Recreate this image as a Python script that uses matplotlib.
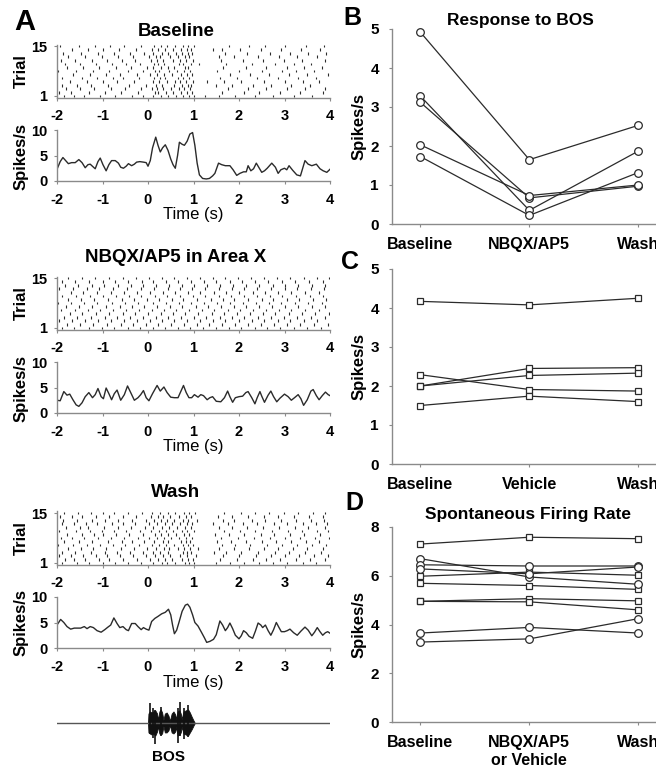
import numpy as np
import matplotlib
matplotlib.use('Agg')
import matplotlib.pyplot as plt

plt.rcParams['font.family'] = ['Liberation Sans', 'DejaVu Sans']
plt.rcParams['font.weight'] = 'bold'
plt.rcParams['axes.unicode_minus'] = False

W, H = 656, 773
INK = '#2b2b2b'
SPINE = '#8a8a8a'

# ---- raster data: spike times (s) per trial, trials 1..15 ----
raster_baseline = [
    [-1.85, -1.62, -1.4, -1.05, -0.72, -0.35, -0.1, 0.12, 0.28, 0.45, 0.62, 0.78, 0.9, 1.02, 1.25, 1.55, 1.92, 2.35, 2.75, 3.2, 3.6],
    [-1.95, -1.7, -1.3, -0.95, -0.6, -0.22, 0.15, 0.22, 0.4, 0.55, 0.72, 0.85, 0.97, 1.62, 2.1, 2.45, 2.9, 3.35, 3.85],
    [-1.8, -1.5, -1.18, -0.82, -0.5, -0.15, 0.08, 0.2, 0.33, 0.5, 0.68, 0.8, 0.92, 1.75, 2.2, 2.6, 3.05, 3.45, 3.9],
    [-1.9, -1.55, -1.25, -0.88, -0.42, -0.05, 0.18, 0.3, 0.58, 0.75, 0.88, 0.95, 1.5, 1.85, 2.3, 2.7, 3.15, 3.55],
    [-1.72, -1.35, -1.0, -0.68, -0.3, 0.1, 0.25, 0.42, 0.6, 0.7, 0.83, 0.98, 1.3, 1.68, 2.05, 2.55, 3.0, 3.4, 3.75],
    [-1.88, -1.45, -1.12, -0.78, -0.55, -0.2, 0.14, 0.27, 0.38, 0.65, 0.77, 0.9, 1.58, 1.95, 2.4, 2.85, 3.3, 3.7],
    [-1.65, -1.28, -0.92, -0.62, -0.25, 0.05, 0.2, 0.35, 0.52, 0.73, 0.86, 0.96, 1.8, 2.25, 2.65, 3.1, 3.5, 3.95],
    [-1.97, -1.58, -1.2, -0.85, -0.45, -0.12, 0.16, 0.24, 0.47, 0.63, 0.79, 0.93, 1.52, 2.0, 2.5, 2.95, 3.25, 3.65],
    [-1.78, -1.42, -1.08, -0.7, -0.38, -0.02, 0.11, 0.29, 0.44, 0.57, 0.81, 0.89, 1.65, 2.15, 2.6, 3.05, 3.42, 3.82],
    [-1.83, -1.5, -1.15, -0.8, -0.48, -0.18, 0.13, 0.23, 0.36, 0.69, 0.76, 0.94, 1.13, 1.72, 2.28, 2.8, 3.2, 3.58],
    [-1.92, -1.6, -1.22, -0.9, -0.58, -0.28, 0.07, 0.19, 0.32, 0.54, 0.71, 0.84, 0.99, 1.6, 2.08, 2.52, 2.98, 3.38, 3.88],
    [-1.75, -1.38, -1.02, -0.65, -0.32, 0.02, 0.17, 0.26, 0.49, 0.66, 0.82, 0.91, 1.55, 1.9, 2.42, 2.88, 3.28, 3.72],
    [-1.86, -1.48, -1.1, -0.75, -0.4, -0.08, 0.12, 0.31, 0.43, 0.61, 0.74, 0.87, 0.97, 1.7, 2.18, 2.68, 3.12, 3.52, 3.92],
    [-1.68, -1.32, -0.98, -0.63, -0.27, 0.09, 0.21, 0.37, 0.56, 0.72, 0.85, 0.95, 1.43, 1.62, 2.02, 2.48, 2.92, 3.36, 3.78],
    [-1.94, -1.52, -1.16, -0.84, -0.52, -0.16, 0.14, 0.28, 0.41, 0.59, 0.78, 0.88, 1.0, 1.78, 2.22, 2.58, 3.02, 3.48, 3.86],
]

raster_nbqx = [
    [-1.9, -1.62, -1.3, -1.02, -0.75, -0.45, -0.18, 0.1, 0.38, 0.65, 0.92, 1.2, 1.5, 1.78, 2.05, 2.35, 2.62, 2.9, 3.2, 3.5, 3.8],
    [-1.78, -1.5, -1.2, -0.9, -0.6, -0.32, -0.05, 0.22, 0.5, 0.8, 1.08, 1.35, 1.62, 1.92, 2.2, 2.48, 2.78, 3.05, 3.35, 3.65, 3.95],
    [-1.95, -1.68, -1.38, -1.1, -0.82, -0.52, -0.25, 0.05, 0.3, 0.58, 0.85, 1.15, 1.42, 1.7, 2.0, 2.28, 2.55, 2.85, 3.12, 3.42, 3.72],
    [-1.85, -1.55, -1.25, -0.95, -0.68, -0.4, -0.1, 0.18, 0.45, 0.72, 1.0, 1.28, 1.58, 1.85, 2.12, 2.42, 2.7, 2.98, 3.28, 3.58, 3.88],
    [-1.72, -1.45, -1.15, -0.85, -0.55, -0.28, 0.0, 0.28, 0.55, 0.82, 1.1, 1.4, 1.68, 1.95, 2.25, 2.52, 2.8, 3.1, 3.38, 3.68, 3.98],
    [-1.92, -1.6, -1.32, -1.05, -0.78, -0.48, -0.2, 0.08, 0.35, 0.62, 0.9, 1.18, 1.45, 1.75, 2.02, 2.3, 2.6, 2.88, 3.15, 3.45, 3.75],
    [-1.8, -1.52, -1.22, -0.92, -0.62, -0.35, -0.08, 0.2, 0.48, 0.75, 1.05, 1.32, 1.6, 1.88, 2.15, 2.45, 2.72, 3.0, 3.3, 3.6, 3.9],
    [-1.98, -1.7, -1.4, -1.12, -0.8, -0.5, -0.22, 0.12, 0.4, 0.68, 0.95, 1.22, 1.52, 1.8, 2.08, 2.38, 2.65, 2.92, 3.22, 3.52, 3.82],
    [-1.75, -1.48, -1.18, -0.88, -0.58, -0.3, -0.02, 0.25, 0.52, 0.78, 1.08, 1.38, 1.65, 1.9, 2.2, 2.5, 2.75, 3.05, 3.32, 3.62, 3.92],
    [-1.88, -1.58, -1.28, -1.0, -0.7, -0.42, -0.15, 0.15, 0.42, 0.7, 0.98, 1.25, 1.55, 1.82, 2.1, 2.4, 2.68, 2.95, 3.25, 3.55, 3.85],
    [-1.7, -1.42, -1.12, -0.82, -0.52, -0.25, 0.04, 0.32, 0.6, 0.88, 1.15, 1.45, 1.72, 2.0, 2.3, 2.58, 2.85, 3.15, 3.45, 3.75],
    [-1.96, -1.65, -1.35, -1.08, -0.76, -0.46, -0.16, 0.14, 0.44, 0.7, 0.96, 1.26, 1.56, 1.84, 2.12, 2.4, 2.7, 3.0, 3.28, 3.58, 3.86],
    [-1.82, -1.54, -1.24, -0.96, -0.66, -0.38, -0.12, 0.18, 0.46, 0.74, 1.02, 1.3, 1.58, 1.86, 2.16, 2.44, 2.74, 3.02, 3.3, 3.6, 3.9],
    [-1.9, -1.6, -1.3, -1.0, -0.72, -0.44, -0.14, 0.12, 0.4, 0.66, 0.94, 1.22, 1.5, 1.8, 2.06, 2.36, 2.64, 2.94, 3.24, 3.54, 3.84],
    [-1.76, -1.46, -1.16, -0.86, -0.56, -0.26, 0.02, 0.3, 0.58, 0.86, 1.14, 1.42, 1.7, 1.98, 2.26, 2.56, 2.84, 3.12, 3.42, 3.72, 3.98],
]

raster_wash = [
    [-1.9, -1.55, -1.3, -1.0, -0.72, -0.45, -0.15, 0.1, 0.3, 0.42, 0.6, 0.82, 0.9, 1.02, 1.5, 1.8, 2.1, 2.45, 2.75, 3.05, 3.4, 3.7],
    [-1.82, -1.62, -1.38, -1.08, -0.85, -0.55, -0.25, 0.05, 0.22, 0.38, 0.52, 0.75, 0.88, 0.98, 1.58, 1.95, 2.3, 2.6, 2.9, 3.25, 3.55, 3.9],
    [-1.95, -1.7, -1.42, -1.15, -0.9, -0.62, -0.32, -0.05, 0.15, 0.33, 0.48, 0.7, 0.85, 1.05, 1.65, 2.0, 2.38, 2.7, 3.0, 3.32, 3.65, 3.95],
    [-1.88, -1.6, -1.25, -0.95, -0.68, -0.4, -0.12, 0.12, 0.27, 0.44, 0.78, 0.86, 0.95, 1.45, 1.72, 2.05, 2.42, 2.8, 3.1, 3.45, 3.8],
    [-1.75, -1.48, -1.2, -0.92, -0.6, -0.3, -0.02, 0.18, 0.35, 0.47, 0.66, 0.8, 0.92, 1.1, 1.55, 1.88, 2.22, 2.55, 2.85, 3.18, 3.5, 3.85],
    [-1.98, -1.65, -1.35, -1.05, -0.78, -0.5, -0.2, 0.08, 0.25, 0.4, 0.58, 0.76, 0.87, 0.99, 1.62, 1.92, 2.25, 2.62, 2.95, 3.28, 3.6, 3.92],
    [-1.85, -1.52, -1.22, -0.88, -0.58, -0.35, -0.08, 0.14, 0.32, 0.45, 0.72, 0.84, 0.93, 1.52, 1.82, 2.15, 2.5, 2.82, 3.15, 3.48, 3.75],
    [-1.92, -1.68, -1.4, -1.1, -0.82, -0.52, -0.22, 0.03, 0.2, 0.36, 0.5, 0.68, 0.83, 0.96, 1.6, 1.98, 2.32, 2.68, 3.02, 3.35, 3.68, 3.98],
    [-1.78, -1.45, -1.18, -0.98, -0.7, -0.42, -0.1, 0.16, 0.29, 0.43, 0.62, 0.79, 0.91, 1.48, 1.78, 2.12, 2.48, 2.78, 3.12, 3.42, 3.78],
    [-1.96, -1.58, -1.28, -1.02, -0.75, -0.48, -0.18, 0.06, 0.24, 0.39, 0.55, 0.74, 0.86, 1.0, 1.68, 2.02, 2.35, 2.72, 3.08, 3.38, 3.72, 3.96],
    [-1.8, -1.5, -1.32, -0.96, -0.65, -0.38, -0.06, 0.11, 0.31, 0.46, 0.64, 0.81, 0.94, 1.56, 1.85, 2.18, 2.52, 2.88, 3.22, 3.52, 3.88],
    [-1.9, -1.63, -1.36, -1.12, -0.8, -0.56, -0.28, 0.02, 0.19, 0.37, 0.53, 0.71, 0.85, 0.97, 1.42, 1.75, 2.08, 2.4, 2.76, 3.06, 3.4, 3.7, 3.94],
    [-1.86, -1.56, -1.24, -0.94, -0.66, -0.36, -0.04, 0.13, 0.28, 0.41, 0.57, 0.77, 0.89, 1.08, 1.64, 1.9, 2.28, 2.58, 2.92, 3.26, 3.58, 3.86],
    [-1.94, -1.66, -1.44, -1.14, -0.86, -0.54, -0.26, 0.07, 0.23, 0.34, 0.49, 0.69, 0.84, 0.95, 1.54, 1.84, 2.2, 2.56, 2.86, 3.2, 3.54, 3.84],
    [-1.84, -1.54, -1.26, -1.0, -0.74, -0.44, -0.14, 0.09, 0.26, 0.44, 0.6, 0.8, 0.9, 1.04, 1.66, 2.04, 2.36, 2.66, 2.98, 3.3, 3.62, 3.9],
]

# ---- smoothed firing rate (time s, spikes/s) ----
rate_baseline = [
    (-2.0, 2.3), (-1.93, 3.8), (-1.87, 4.6), (-1.8, 3.9), (-1.75, 3.4), (-1.68, 3.6), (-1.6, 3.6), (-1.52, 4.2),
    (-1.45, 3.6), (-1.38, 2.6), (-1.32, 3.2), (-1.27, 3.3), (-1.21, 2.8), (-1.16, 2.4), (-1.1, 3.8), (-1.05, 4.5),
    (-0.99, 3.2), (-0.92, 2.0), (-0.86, 3.2), (-0.8, 4.0), (-0.72, 4.0), (-0.65, 3.5), (-0.6, 2.7), (-0.54, 2.5),
    (-0.48, 2.9), (-0.43, 3.4), (-0.36, 3.0), (-0.3, 3.3), (-0.25, 3.7), (-0.18, 3.8), (-0.1, 3.7), (-0.04, 3.6),
    (0.0, 2.9), (0.05, 4.0), (0.1, 6.5), (0.17, 8.6), (0.22, 7.0), (0.27, 5.7), (0.32, 6.5), (0.38, 7.1),
    (0.44, 6.0), (0.5, 4.3), (0.55, 3.2), (0.6, 2.5), (0.65, 5.0), (0.69, 7.6), (0.75, 7.2), (0.8, 7.0),
    (0.86, 7.8), (0.92, 9.2), (0.98, 9.5), (1.03, 7.0), (1.08, 3.5), (1.13, 1.2), (1.2, 0.5), (1.28, 0.4),
    (1.35, 0.5), (1.42, 1.0), (1.47, 1.5), (1.55, 3.5), (1.62, 3.2), (1.7, 3.0), (1.8, 3.0), (1.87, 2.2),
    (1.95, 1.1), (2.02, 1.5), (2.1, 1.8), (2.16, 1.8), (2.2, 3.0), (2.26, 2.0), (2.32, 2.4), (2.38, 3.5),
    (2.44, 2.6), (2.5, 1.7), (2.56, 2.0), (2.62, 2.5), (2.72, 3.5), (2.8, 2.7), (2.86, 1.5), (2.92, 2.2),
    (3.0, 2.5), (3.05, 2.2), (3.1, 3.0), (3.18, 2.1), (3.27, 1.2), (3.35, 1.0), (3.45, 4.0), (3.52, 3.3),
    (3.6, 3.0), (3.7, 3.3), (3.78, 2.4), (3.85, 2.0), (3.93, 1.7), (4.0, 2.3),
]

rate_nbqx = [
    (-2.0, 2.5), (-1.93, 2.4), (-1.85, 4.2), (-1.78, 3.5), (-1.72, 3.7), (-1.65, 2.6), (-1.58, 1.6), (-1.52, 1.3),
    (-1.45, 2.0), (-1.38, 3.2), (-1.3, 4.0), (-1.22, 3.0), (-1.16, 3.6), (-1.1, 4.8), (-1.03, 3.2), (-0.98, 2.8),
    (-0.92, 4.9), (-0.86, 3.8), (-0.8, 2.6), (-0.74, 3.8), (-0.68, 4.5), (-0.6, 2.5), (-0.52, 3.6), (-0.45, 5.3),
    (-0.38, 4.0), (-0.3, 2.5), (-0.22, 3.0), (-0.16, 3.6), (-0.1, 4.4), (-0.04, 3.0), (0.02, 2.4), (0.1, 3.8),
    (0.2, 5.4), (0.27, 4.3), (0.35, 5.1), (0.42, 4.0), (0.5, 3.1), (0.58, 3.0), (0.66, 3.0), (0.72, 4.2),
    (0.78, 5.4), (0.84, 4.0), (0.9, 3.0), (0.96, 3.0), (1.02, 3.6), (1.1, 3.1), (1.16, 3.6), (1.22, 3.4),
    (1.3, 2.6), (1.36, 3.0), (1.42, 3.2), (1.5, 2.3), (1.6, 2.2), (1.68, 3.0), (1.75, 4.3), (1.8, 3.2),
    (1.86, 2.1), (1.92, 3.0), (2.0, 3.2), (2.08, 3.3), (2.15, 4.0), (2.2, 4.2), (2.28, 3.0), (2.35, 1.8),
    (2.4, 3.0), (2.46, 4.2), (2.5, 3.3), (2.56, 2.1), (2.64, 3.5), (2.7, 4.3), (2.76, 3.2), (2.83, 2.2),
    (2.9, 2.9), (3.0, 3.7), (3.08, 3.2), (3.15, 2.5), (3.22, 3.0), (3.3, 3.6), (3.36, 2.8), (3.42, 1.5),
    (3.5, 2.6), (3.58, 4.3), (3.63, 4.6), (3.7, 3.4), (3.76, 2.6), (3.83, 3.4), (3.9, 4.1), (3.96, 3.6), (4.0, 3.4),
]

rate_wash = [
    (-2.0, 4.5), (-1.92, 5.6), (-1.85, 5.0), (-1.78, 4.2), (-1.7, 3.7), (-1.62, 3.9), (-1.55, 3.9), (-1.48, 3.9),
    (-1.4, 4.2), (-1.34, 3.8), (-1.27, 4.2), (-1.2, 4.0), (-1.12, 3.4), (-1.03, 3.1), (-0.95, 3.6), (-0.88, 4.1),
    (-0.82, 4.5), (-0.75, 5.9), (-0.68, 4.8), (-0.62, 4.0), (-0.55, 4.2), (-0.48, 3.6), (-0.43, 3.4), (-0.36, 4.8),
    (-0.28, 4.8), (-0.22, 4.2), (-0.15, 3.6), (-0.1, 4.0), (-0.04, 3.7), (0.02, 3.5), (0.08, 5.2), (0.15, 5.8),
    (0.22, 6.2), (0.3, 6.7), (0.38, 7.0), (0.45, 7.6), (0.5, 6.5), (0.54, 4.5), (0.58, 2.8), (0.63, 3.5),
    (0.68, 5.0), (0.75, 7.2), (0.82, 8.4), (0.87, 8.6), (0.92, 8.0), (0.98, 6.5), (1.03, 5.0), (1.1, 4.3),
    (1.18, 3.0), (1.24, 2.0), (1.29, 1.1), (1.36, 1.3), (1.44, 1.7), (1.5, 2.6), (1.58, 5.3), (1.64, 4.5),
    (1.7, 3.4), (1.75, 4.0), (1.8, 4.9), (1.86, 3.8), (1.92, 2.5), (2.0, 1.8), (2.05, 2.4), (2.1, 3.4),
    (2.16, 3.0), (2.22, 2.3), (2.3, 1.9), (2.36, 3.3), (2.42, 4.9), (2.48, 4.5), (2.52, 4.0), (2.58, 4.5),
    (2.64, 3.4), (2.7, 2.5), (2.76, 3.6), (2.82, 5.0), (2.88, 4.0), (2.93, 3.2), (3.0, 3.2), (3.06, 3.4),
    (3.12, 3.7), (3.2, 3.0), (3.28, 2.5), (3.36, 3.3), (3.45, 4.1), (3.52, 3.5), (3.6, 2.4), (3.66, 3.1),
    (3.72, 4.0), (3.78, 3.2), (3.84, 2.5), (3.9, 3.0), (3.95, 3.2), (4.0, 2.9),
]

# ---- BOS oscillogram envelope (time s, upper, lower), relative amplitude ----
bos_env = [
    (0.0, 0.0, 0.0), (0.01, 0.45, -0.45), (0.04, 0.55, -0.5), (0.08, 0.5, -0.55), (0.12, 0.55, -0.5),
    (0.16, 0.6, -0.6), (0.2, 0.45, -0.4), (0.22, 0.15, -0.15), (0.25, 0.55, -0.5), (0.28, 0.65, -0.55),
    (0.31, 0.5, -0.5), (0.34, 0.15, -0.15), (0.37, 0.45, -0.45), (0.41, 0.5, -0.45), (0.45, 0.35, -0.35),
    (0.48, 0.1, -0.1), (0.52, 0.45, -0.45), (0.56, 0.55, -0.5), (0.6, 0.4, -0.4), (0.62, 0.18, -0.18),
    (0.65, 0.55, -0.6), (0.69, 0.6, -0.55), (0.72, 0.45, -0.45), (0.74, 0.18, -0.18), (0.78, 0.55, -0.5),
    (0.83, 0.6, -0.55), (0.88, 0.65, -0.6), (0.92, 0.5, -0.45), (0.96, 0.3, -0.3), (1.0, 0.12, -0.12), (1.03, 0.0, 0.0),
]
# tall single oscillations (time s, top, bottom)
bos_spikes = [(0.04, 0.95, -0.5), (0.16, 0.6, -1.0), (0.28, 0.75, -0.6), (0.66, 0.7, -0.95),
              (0.7, 1.0, -0.6), (0.88, 0.85, -0.65), (0.1, 0.7, -0.7), (0.8, 0.7, -0.75)]

# ---- panel B/C/D population data ----
groups_bc = ['Baseline', 'NBQX/AP5', 'Wash']
groups_c = ['Baseline', 'Vehicle', 'Wash']
groups_d = ['Baseline', 'NBQX/AP5\nor Vehicle', 'Wash']

bos_response = [
    [4.92, 1.65, 2.53],
    [3.28, 0.35, 1.87],
    [3.12, 0.67, 0.97],
    [2.03, 0.73, 1.00],
    [1.73, 0.22, 1.32],
]
vehicle_response = [
    [4.17, 4.08, 4.25],
    [2.29, 1.91, 1.87],
    [2.00, 2.45, 2.47],
    [2.00, 2.27, 2.33],
    [1.50, 1.74, 1.60],
]
spont_nbqx = [
    [6.70, 5.95, 5.65],
    [6.45, 6.40, 6.40],
    [6.28, 6.08, 6.36],
    [3.65, 3.88, 3.65],
    [3.28, 3.41, 4.24],
]
spont_vehicle = [
    [7.30, 7.58, 7.52],
    [5.98, 6.15, 6.02],
    [5.69, 5.60, 5.44],
    [4.95, 5.06, 4.97],
    [4.95, 4.93, 4.60],
]

fig = plt.figure(figsize=(W / 100, H / 100), dpi=100)


def rect(left, top, right, bottom):
    return [left / W, 1 - bottom / H, (right - left) / W, (bottom - top) / H]


def ftext(x, y, s, **kw):
    fig.text(x / W, 1 - y / H, s, ha=kw.pop('ha', 'center'), va=kw.pop('va', 'center'), **kw)


def style(ax, xpad=6, ypad=4.5):
    for side in ['top', 'right']:
        ax.spines[side].set_visible(False)
    for side in ['left', 'bottom']:
        ax.spines[side].set_color(SPINE)
        ax.spines[side].set_linewidth(1.0)
    ax.tick_params(axis='both', direction='out', length=2.5, width=0.8, color=SPINE)
    ax.tick_params(axis='x', pad=xpad)
    ax.tick_params(axis='y', pad=ypad)


rasters = [raster_baseline, raster_nbqx, raster_wash]
rates = [rate_baseline, rate_nbqx, rate_wash]
titles = ['Baseline', 'NBQX/AP5 in Area X', 'Wash']
raster_tops = [46, 278, 513]
rate_tops = [130, 362, 597]
title_y = [31, 258, 493]

for k in range(3):
    rt = raster_tops[k]
    ax = fig.add_axes(rect(57, rt - 1.5, 330, rt + 51.5))
    ax.eventplot(rasters[k], lineoffsets=np.arange(1, 16), linelengths=0.75,
                 colors=INK, linewidths=0.8)
    ax.set_xlim(-2, 4)
    ax.set_ylim(0.55, 15.45)
    ax.set_xticks(range(-2, 5))
    ax.set_yticks([1, 15])
    style(ax)
    ax.tick_params(labelsize=10.5)
    ftext(21, rt + 25, 'Trial', rotation=90, fontsize=12)

    qt = rate_tops[k]
    ax2 = fig.add_axes(rect(57, qt, 330, qt + 51))
    t = [p[0] for p in rates[k]]
    r = [p[1] for p in rates[k]]
    ax2.plot(t, r, color=INK, lw=1.0)
    ax2.set_xlim(-2, 4)
    ax2.set_ylim(0, 10)
    ax2.set_xticks(range(-2, 5))
    ax2.set_yticks([0, 5, 10])
    style(ax2)
    ax2.tick_params(labelsize=10.5)
    ax2.set_xlabel('Time (s)', fontsize=12, labelpad=0.5)
    ftext(21, qt + 26, 'Spikes/s', rotation=90, fontsize=12)

    ftext(176, title_y[k], titles[k], fontsize=13.5)

ftext(25, 22, 'A', fontsize=21)

# BOS oscillogram
axb = fig.add_axes(rect(57, 702, 330, 744))
axb.axhline(0, color='#555555', lw=1.0)
et = [e[0] for e in bos_env]
eu = [e[1] for e in bos_env]
el = [e[2] for e in bos_env]
axb.fill_between(et, el, eu, color='#111111', lw=0.6)
for st, su, sl in bos_spikes:
    axb.vlines(st, sl, su, color='#111111', lw=1.2)
axb.set_xlim(-2, 4)
axb.set_ylim(-1, 1)
axb.axis('off')
axb.text(0.45, -1.6, 'BOS', ha='center', va='center', fontsize=11, clip_on=False)

# Panels B, C, D
xcat = [1, 2, 3]


def pop_panel(top, bottom, ymax, yticks, labels):
    ax = fig.add_axes(rect(392, top, 392 + 2.56 * 109, bottom))
    ax.set_xlim(0.74, 3.30)
    ax.set_ylim(0, ymax)
    ax.set_xticks(xcat)
    ax.set_xticklabels(labels)
    ax.set_yticks(yticks)
    style(ax, xpad=7, ypad=7)
    ax.tick_params(axis='x', labelsize=11.5)
    ax.tick_params(axis='y', labelsize=11)
    ftext(359, (top + bottom) / 2, 'Spikes/s', rotation=90, fontsize=12)
    return ax


def series(ax, rows, marker, ms):
    for row in rows:
        ax.plot(xcat, row, color=INK, lw=0.9, marker=marker, ms=ms, mfc='white',
                mec=INK, mew=0.9, clip_on=False, zorder=3)


axB = pop_panel(29, 224, 5, range(0, 6), groups_bc)
series(axB, bos_response, 'o', 5.5)
ftext(520, 20, 'Response to BOS', fontsize=12.5)
ftext(352, 18, 'B', fontsize=18)

axC = pop_panel(269, 464, 5, range(0, 6), groups_c)
series(axC, vehicle_response, 's', 3.8)
ftext(350, 262, 'C', fontsize=18)

axD = pop_panel(527, 722, 8, [0, 2, 4, 6, 8], groups_d)
series(axD, spont_vehicle, 's', 3.8)
series(axD, spont_nbqx, 'o', 5.5)
ftext(528, 515, 'Spontaneous Firing Rate', fontsize=12.5)
ftext(354, 503, 'D', fontsize=18)

fig.savefig('out.png', dpi=100)
